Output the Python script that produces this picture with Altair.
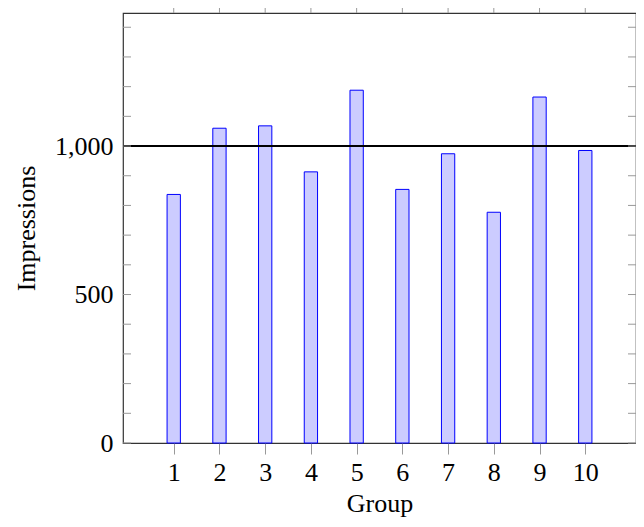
import altair as alt
import pandas as pd

groups = [1, 2, 3, 4, 5, 6, 7, 8, 9, 10]
impressions = [837, 1060, 1068, 913, 1188, 854, 974, 777, 1165, 985]
threshold = [1000]
y_ticks = list(range(0, 1500, 100))
y_labels = [0, 500, 1000]

W, H = 513, 430
FONT = "Liberation Serif"
FS = 26

bars_df = pd.DataFrame({"Group": groups, "Impressions": impressions})
thr_df = pd.DataFrame({"v": threshold})
yt_df = pd.DataFrame({"v": y_ticks})
xt_df = pd.DataFrame({"g": groups})

xscale = alt.Scale(domain=[0, 11], nice=False, zero=False)
yscale = alt.Scale(domain=[0, 1448], nice=False)

bars = alt.Chart(bars_df).mark_bar(
    width=13.3, fill="#ccccff", stroke="#0000ff", strokeWidth=1
).encode(
    x=alt.X("Group:Q", scale=xscale,
            axis=alt.Axis(values=groups, title="Group", grid=False, domain=False,
                          tickSize=11, tickColor="#999999", tickWidth=1,
                          labelPadding=5, labelFontSize=FS, titleFontSize=FS,
                          labelFont=FONT, titleFont=FONT, labelColor="#000",
                          titleColor="#000", titleFontWeight="normal", titlePadding=5,
                          labelFlush=False)),
    y=alt.Y("Impressions:Q", scale=yscale,
            axis=alt.Axis(values=y_labels, format=",.0f", title="Impressions", grid=False,
                          domain=False, tickSize=0, labelPadding=10,
                          labelFontSize=FS, titleFontSize=FS, labelFont=FONT,
                          titleFont=FONT, labelColor="#000", titleColor="#000",
                          titleFontWeight="normal", titlePadding=15)),
)

rule = alt.Chart(thr_df).mark_rule(color="#000000", strokeWidth=2).encode(
    y=alt.Y("v:Q", scale=yscale)
)

left_ticks = alt.Chart(yt_df).mark_rule(color="#999999", strokeWidth=1).encode(
    y=alt.Y("v:Q", scale=yscale), x=alt.value(0), x2=alt.value(8)
)
right_ticks = alt.Chart(yt_df).mark_rule(color="#999999", strokeWidth=1).encode(
    y=alt.Y("v:Q", scale=yscale), x=alt.value(W - 8), x2=alt.value(W)
)
top_ticks = alt.Chart(xt_df).mark_rule(color="#999999", strokeWidth=1).encode(
    x=alt.X("g:Q", scale=xscale), y=alt.value(-13), y2=alt.value(0)
)

chart = alt.layer(bars, rule, left_ticks, right_ticks, top_ticks).properties(
    width=W, height=H,
    autosize=alt.AutoSizeParams(type="none"),
    padding={"left": 115, "top": 5, "right": 0, "bottom": 76},
).configure_view(stroke="#333333", strokeWidth=1.2)

chart.save("out.html", embed_options={"renderer": "svg", "actions": False})
